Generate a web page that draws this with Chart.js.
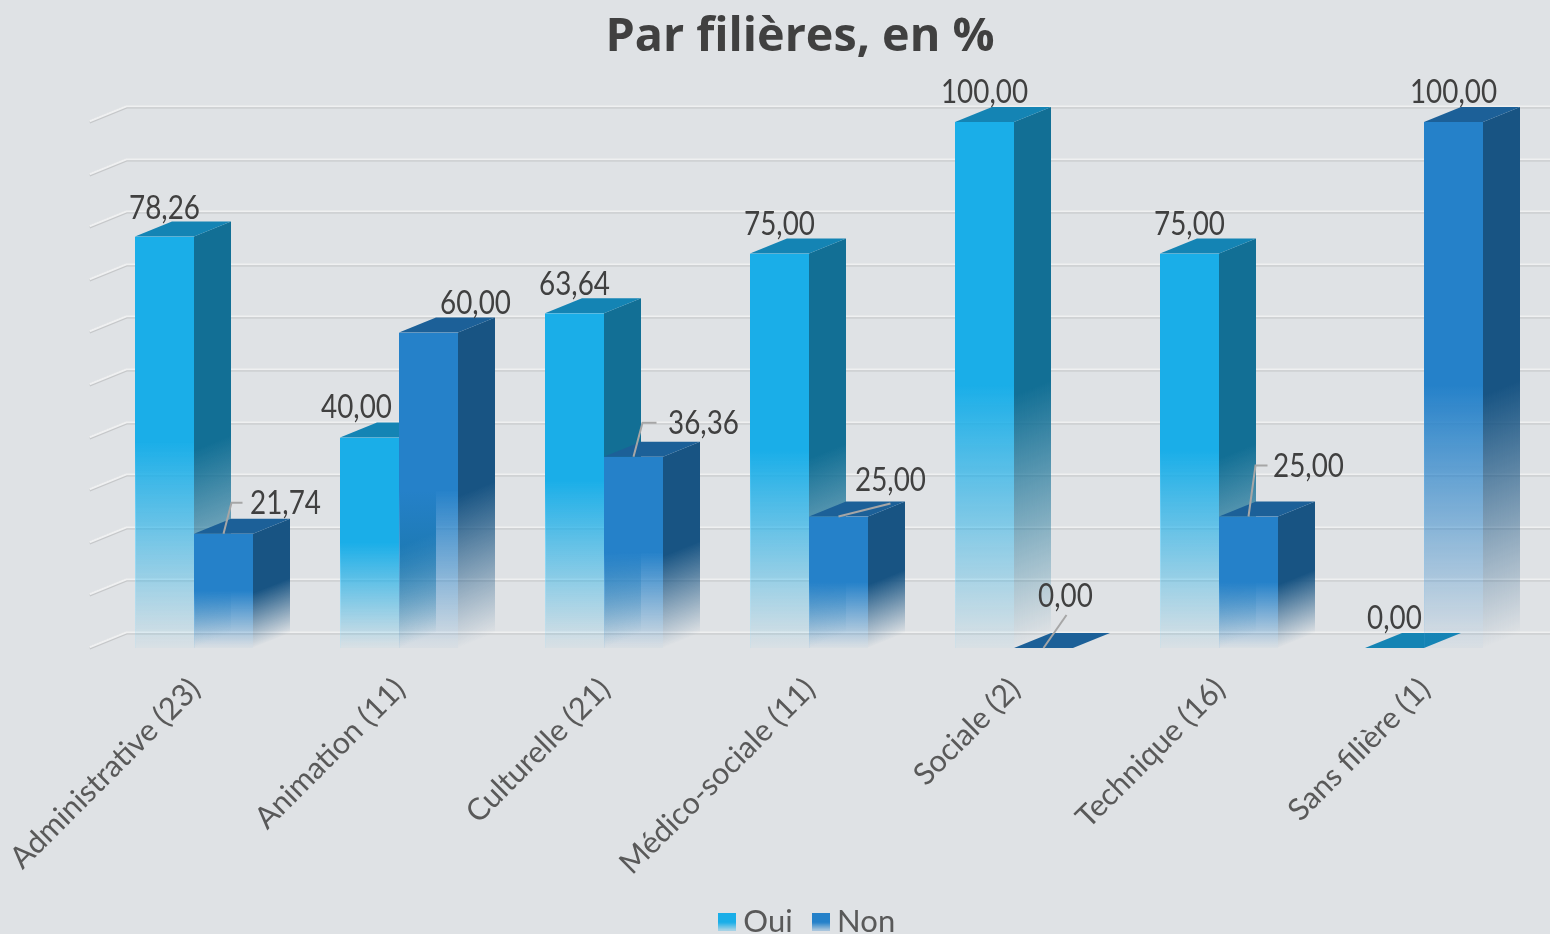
<!DOCTYPE html>
<html lang="fr"><head><meta charset="utf-8">
<style>html,body{margin:0;padding:0;background:#dfe2e5;overflow:hidden}canvas{display:block}</style>
<script src="https://cdn.jsdelivr.net/npm/chart.js@4"></script></head>
<body><div style="width:1550px;height:934px;position:relative"><canvas id="c"></canvas></div>
<script>
const categories = ['Administrative (23)','Animation (11)','Culturelle (21)','Médico-sociale (11)','Sociale (2)','Technique (16)','Sans filière (1)'];
const oui = [78.26,40,63.64,75,100,75,0];
const non = [21.74,60,36.36,25,0,25,100];
const yTicksMax = 100, yTicksStep = 10;

// layout / style (not data)
const DX = 37, DY = 15;
const palette = {
  oui:{front:[26,174,232], side:[18,111,149], top:[20,132,180], edge:[110,210,250]},
  non:{front:[37,129,201], side:[24,84,131], top:[28,96,152], edge:[90,165,220]}
};
// label offsets from the front-top centre of each bar: [dx, dy]
const ouiLabelShift = [[0,-28],[-13,-30],[0,-29],[0,-29],[0,-29],[0,-29],[0,-29]];
const nonLabelShift = [[62,-30],[47,-29],[70,-33],[52,-36],[22,-51],[60,-50],[0,-29]];
// leader elbows relative to the same anchor: list of [dx, dy]
const nonLeaders = [[[8,-31],[19,-31]],null,[[9,-34],[23,-34]],[[52,-13]],[[23,-33]],[[7,-51],[19,-51]],null];

const rgba=(c,a)=>`rgba(${c[0]},${c[1]},${c[2]},${a})`;
function frontGrad(context, pal, edge){
  const chart=context.chart, y=chart.scales.y;
  if(!y || context.parsed===undefined) return rgba(pal.front,1);
  const val=context.parsed.y, t=y.getPixelForValue(val), b=y.getPixelForValue(0);
  if(b-t<1) return rgba(pal.front,1);
  const g=chart.ctx.createLinearGradient(0,t,0,b);
  g.addColorStop(0,rgba(pal.front,1));
  g.addColorStop(.5,rgba(pal.front,1));
  if(edge){
    g.addColorStop(.7,rgba(pal.edge,.85));
    g.addColorStop(1,rgba(pal.edge,.12));
  }else{
    g.addColorStop(.98,rgba(pal.front,.06));
    g.addColorStop(1,rgba(pal.front,.03));
  }
  return g;
}
function poly(ctx,pts){ctx.beginPath();pts.forEach((p,i)=>i?ctx.lineTo(p[0],p[1]):ctx.moveTo(p[0],p[1]));ctx.closePath();}

const wall3d = {
  id:'wall3d',
  afterLayout(chart){
    if(chart.legend){chart.legend.left+=11;chart.legend.right+=11;chart.legend.top+=13;chart.legend.bottom+=13;}
    chart.scales.x.bottom+=30;
  },
  beforeDatasetsDraw(chart){
    const {ctx,scales:{y},chartArea:a,width}=chart;
    ctx.save();
    y.ticks.forEach(t=>{
      const py=Math.round(y.getPixelForValue(t.value));
      const x0=a.left-2, x1=x0+DX;
      ctx.lineCap='butt';
      ctx.strokeStyle='#c6c8ca';ctx.lineWidth=3;
      ctx.beginPath();ctx.moveTo(x0,py);ctx.lineTo(x1,py-DY);ctx.lineTo(width,py-DY);ctx.stroke();
      ctx.strokeStyle='#eff0f1';ctx.lineWidth=2;
      ctx.beginPath();ctx.moveTo(x0,py-.7);ctx.lineTo(x1,py-DY-.7);ctx.lineTo(width,py-DY-.7);ctx.stroke();
    });
    // side & top faces of each bar, back-to-front
    const metas=[[chart.getDatasetMeta(0),palette.oui],[chart.getDatasetMeta(1),palette.non]];
    for(let i=0;i<categories.length;i++){
      metas.forEach(([m,pal])=>{
        const el=m.data[i];
        const L=el.x-el.width/2,R=el.x+el.width/2,T=el.y,B=el.base;
        if(B-T>=1){
          const mid=T+(B-T)*.52, len=(B-mid);
          const nx=15/39.9, ny=37/39.9;
          const g=ctx.createLinearGradient(R,mid,R+nx*len*ny,mid+ny*len*ny);
          g.addColorStop(0,rgba(pal.side,1));
          g.addColorStop(1,rgba(pal.side,0));
          ctx.fillStyle=g;
          poly(ctx,[[R,T],[R+DX,T-DY],[R+DX,B-DY],[R,B]]);ctx.fill();
        }
        ctx.fillStyle=rgba(pal.top,1);
        poly(ctx,[[L,T],[R,T],[R+DX,T-DY],[L+DX,T-DY]]);ctx.fill();
      });
    }
    ctx.restore();
  },
  afterDatasetsDraw(chart){
    const {ctx}=chart;
    const fmt=v=>v.toFixed(2).replace('.',',');
    ctx.save();
    // leaders
    ctx.strokeStyle='#a6a6a6';ctx.lineWidth=2;
    chart.getDatasetMeta(1).data.forEach((el,i)=>{
      const path=nonLeaders[i]; if(!path) return;
      ctx.beginPath();ctx.moveTo(el.x,el.y);
      path.forEach(p=>ctx.lineTo(el.x+p[0],el.y+p[1]));ctx.stroke();
    });
    // labels
    ctx.fillStyle='#404040';ctx.textAlign='center';ctx.textBaseline='middle';
    ctx.font='32px Lato';
    [[0,oui,ouiLabelShift],[1,non,nonLabelShift]].forEach(([d,vals,shift])=>{
      chart.getDatasetMeta(d).data.forEach((el,i)=>{
        ctx.save();
        ctx.translate(el.x+shift[i][0],el.y+shift[i][1]);
        ctx.scale(.87,1);
        ctx.fillText(fmt(vals[i]),0,0);
        ctx.restore();
      });
    });
    ctx.restore();
  }
};

const cx=document.getElementById('c').getContext('2d');
function legendMarker(c){
  const cv=document.createElement('canvas');cv.width=18;cv.height=18;
  const k=cv.getContext('2d');
  const g=k.createLinearGradient(0,0,0,18);
  g.addColorStop(0,rgba(c,1));g.addColorStop(.55,rgba(c,1));g.addColorStop(1,rgba(c,.25));
  k.fillStyle=g;k.fillRect(0,0,18,18);
  return cv;
}
const legendPad=28, legendH=69;
new Chart(cx,{
  type:'bar',
  plugins:[wall3d],
  data:{labels:categories,datasets:[
    {label:'Oui',data:oui,backgroundColor:c=>frontGrad(c,palette.oui),borderColor:c=>frontGrad(c,palette.oui,true),borderWidth:{left:1,right:0},categoryPercentage:118/205,barPercentage:1},
    {label:'Non',data:non,backgroundColor:c=>frontGrad(c,palette.non),borderColor:c=>frontGrad(c,palette.non,true),borderWidth:{left:1,right:0},categoryPercentage:118/205,barPercentage:1}
  ]},
  options:{
    responsive:true,maintainAspectRatio:false,animation:false,
    devicePixelRatio:1,
    layout:{padding:{left:73.5,right:23.5,top:0,bottom:0}},
    plugins:{
      title:{display:true,text:'Par filières, en %',color:'#404040',font:{family:'"Open Sans"',size:46.7,weight:'bold',lineHeight:1.2},padding:{top:10,bottom:56}},
      legend:{position:'bottom',labels:{usePointStyle:true,pointStyleWidth:1,boxHeight:18,padding:legendPad,color:'#595959',font:{family:'Lato',size:31},
        generateLabels(chart){return [
          {text:'Oui',fillStyle:rgba(palette.oui.front,1),pointStyle:legendMarker(palette.oui.front),strokeStyle:'rgba(0,0,0,0)',lineWidth:0,datasetIndex:0,fontColor:'#595959'},
          {text:'Non',fillStyle:rgba(palette.non.front,1),pointStyle:legendMarker(palette.non.front),strokeStyle:'rgba(0,0,0,0)',lineWidth:0,datasetIndex:1,fontColor:'#595959'}
        ];}}},
      tooltip:{enabled:false}
    },
    scales:{
      x:{grid:{display:false},border:{display:false},
        afterFit(s){s.height=934-648-legendH;s.paddingLeft=0;s.paddingRight=0;s.paddingTop=0;s.paddingBottom=0;},
        ticks:{autoSkip:false,minRotation:45,maxRotation:45,padding:15,labelOffset:1,color:'#595959',font:{family:'Lato',size:30.5}}},
      y:{display:false,min:0,max:yTicksMax,ticks:{stepSize:yTicksStep},grid:{display:false},
        afterFit(s){s.width=18;s.paddingTop=0;s.paddingBottom=0;}}
    }
  }
});
</script></body></html>
